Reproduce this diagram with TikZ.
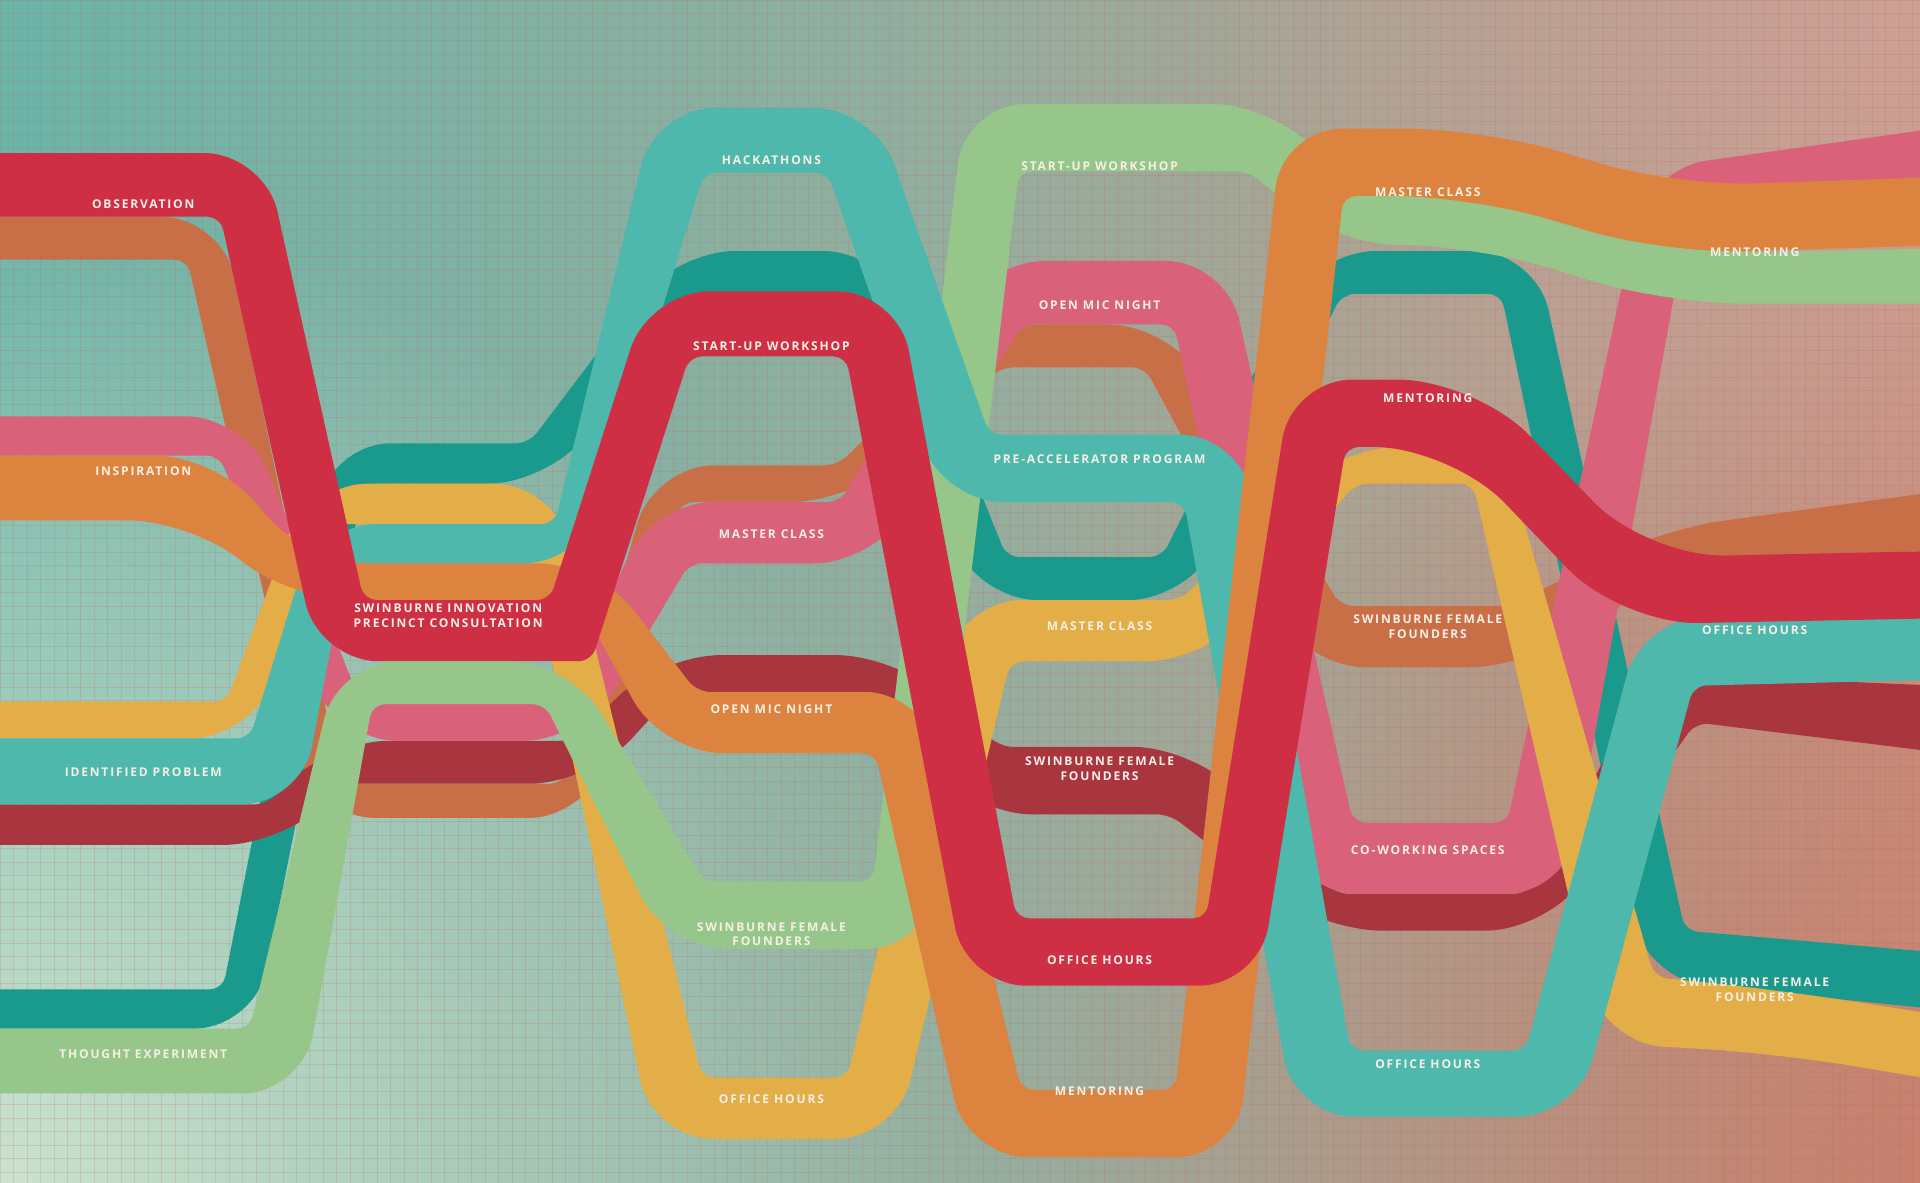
\documentclass[tikz,border=0pt]{standalone}
\usepackage{fontspec}
\usetikzlibrary{fadings}
\newfontfamily\lblfont{Open Sans}[LetterSpace=15]

\definecolor{redc}{HTML}{CE2F45}
\definecolor{terrac}{HTML}{C96F48}
\definecolor{pinkc}{HTML}{D9627A}
\definecolor{orangec}{HTML}{DC843F}
\definecolor{yellowc}{HTML}{E3AD48}
\definecolor{ltealc}{HTML}{4DB8AB}
\definecolor{maroonc}{HTML}{A9363F}
\definecolor{dtealc}{HTML}{1A998D}
\definecolor{greenc}{HTML}{97C68A}
\definecolor{lbltext}{HTML}{F5EFE6}
\definecolor{bgleft}{HTML}{6BB4A8}
\definecolor{bgmid}{HTML}{93AE9F}
\definecolor{bgright}{HTML}{C99282}
\definecolor{bgpale}{HTML}{DDEBD5}
\definecolor{bgpink}{HTML}{D2AFAA}
\definecolor{bgsalmon}{HTML}{C66E58}
\definecolor{gridred}{HTML}{C0655F}

\tikzfading[name=glow, inner color=transparent!0, outer color=transparent!100]

\begin{document}
\begin{tikzpicture}[x=0.01cm, y=-0.01cm,
    ribbon/.style={fill=#1},
    rout/.style={rounded corners=14pt},
    rin/.style={rounded corners=3pt},
    rwave/.style={rounded corners=18pt},
    lbl/.style={text=lbltext, font=\lblfont\bfseries\fontsize{2.8}{3.4}\selectfont, align=center, inner sep=0pt},
    gridln/.style={draw=gridred, line width=0.15pt, opacity=0.2}]
\useasboundingbox (0,0) rectangle (1568,966);
\clip (0,0) rectangle (1568,966);

% background
\shade[left color=bgleft, right color=bgright, middle color=bgmid] (0,0) rectangle (1568,966);
\fill[bgpale, path fading=glow, fill opacity=0.85] (0,966) circle (8cm);
\fill[bgpink, path fading=glow, fill opacity=0.5] (1568,0) circle (6cm);
\fill[bgsalmon, path fading=glow, fill opacity=0.5] (1568,966) circle (7cm);
\foreach \g in {0,11,...,1568} \draw[gridln] (\g,0) -- (\g,966);
\foreach \g in {0,11,...,966} \draw[gridln] (0,\g) -- (1568,\g);

% ribbons, back to front (corner style is given just before the corner it rounds)
\fill[ribbon=dtealc] (-60,808) [rin] -- (182,808) [rout] -- (270,362) [rin] -- (432,362) [rout] -- (551,205) [rout] -- (722,205) [rin] -- (822,455) [rin] -- (949,455) [rout] -- (1074,205) [rout] -- (1254,205) [rin] -- (1376,760) [sharp corners] -- (1630,782) -- (1630,829) [rout] -- (1344,800) [rin] -- (1226,240) [rin] -- (1096,240) [rout] -- (971,490) [rout] -- (798,490) [rin] -- (698,240) [rin] -- (569,240) [rout] -- (448,395) [rin] -- (297,395) [rout] -- (208,840) [sharp corners] -- (-60,840) -- cycle;
\fill[ribbon=terrac] (-60,177) [rout] -- (181,177) [rin] -- (279,640) [rin] -- (460,640) [rout] -- (534,380) [rin] -- (684,380) [rout] -- (803,265) [rout] -- (955,265) [rin] -- (1095,495) [rin] -- (1232,495) [rout] -- (1358,432) [sharp corners] -- (1630,395) -- (1630,446) [rin] -- (1372,462) [rout] -- (1248,545) [rout] -- (1066,545) [rin] -- (935,300) [rin] -- (817,300) [rout] -- (696,410) [rin] -- (556,410) [rout] -- (481,668) [rout] -- (257,668) [rin] -- (153,212) [sharp corners] -- (-60,212) -- cycle;
\fill[ribbon=maroonc] (-60,657) [rin] -- (218,657) [rout] -- (268,605) [rin] -- (468,605) [rout] -- (539,535) [rout] -- (732,535) [rin] -- (817,610) [rout] -- (975,610) [rin] -- (1091,730) [rin] -- (1247,730) [rout] -- (1351,550) [sharp corners] -- (1630,562) -- (1630,620) [rin] -- (1385,590) [rout] -- (1263,760) [rout] -- (1079,760) [rin] -- (955,665) [rout] -- (793,665) [rin] -- (718,565) [rin] -- (551,565) [rout] -- (482,640) [rin] -- (282,640) [rout] -- (232,690) [sharp corners] -- (-60,690) -- cycle;
\fill[ribbon=pinkc] (-60,340) [rout] -- (201,340) [rin] -- (295,575) [rin] -- (459,575) [rout] -- (533,410) [rin] -- (686,410) [rout] -- (805,213) [rout] -- (1001,213) [rin] -- (1105,672) [rin] -- (1231,672) [rout] -- (1345,138) [sharp corners] -- (1630,98) -- (1630,146) [rin] -- (1380,170) [rout] -- (1279,730) [rout] -- (1059,730) [rin] -- (959,265) [rin] -- (835,265) [rout] -- (714,460) [rin] -- (563,460) [rout] -- (477,605) [rout] -- (275,605) [rin] -- (179,372) [sharp corners] -- (-60,372) -- cycle;
\fill[ribbon=yellowc] (-60,573) [rin] -- (185,573) [rout] -- (251,395) [rout] -- (453,395) [rin] -- (573,880) [rin] -- (692,880) [rout] -- (785,490) [rin] -- (964,490) [rout] -- (1093,365) [rout] -- (1227,365) [rin] -- (1351,798) [rwave] -- (1450,808) [sharp corners] -- (1630,836) -- (1630,890) [rwave] -- (1450,860) [rout] -- (1309,852) [rin] -- (1203,395) [rin] -- (1107,395) [rout] -- (986,540) [rin] -- (825,540) [rout] -- (732,930) [rout] -- (533,930) [rin] -- (427,428) [rin] -- (273,428) [rout] -- (205,603) [sharp corners] -- (-60,603) -- cycle;
\fill[ribbon=greenc] (-60,840) [rin] -- (204,840) [rout] -- (276,540) [rout] -- (465,540) [rin] -- (575,720) [rin] -- (713,720) [rout] -- (788,85) [rout] -- (1040,85) [rin] -- (1108,160) [rwave] -- (1215,160) [rwave] -- (1370,207) [sharp corners] -- (1630,202) -- (1630,248) [rwave] -- (1360,248) [rwave] -- (1205,200) [rout] -- (1092,200) [rin] -- (1020,140) [rin] -- (832,140) [rout] -- (757,775) [rout] -- (545,775) [rin] -- (445,575) [rin] -- (304,575) [rout] -- (247,893) [sharp corners] -- (-60,893) -- cycle;
\fill[ribbon=ltealc] (-60,603) [rin] -- (204,603) [rout] -- (258,428) [rin] -- (453,428) [rout] -- (535,88) [rout] -- (714,88) [rin] -- (808,355) [rout] -- (1013,355) [rin] -- (1103,858) [rin] -- (1246,858) [rout] -- (1341,505) [sharp corners] -- (1630,499) -- (1630,554) [rin] -- (1383,560) [rout] -- (1288,912) [rout] -- (1057,912) [rin] -- (967,410) [rout] -- (770,410) [rin] -- (676,141) [rin] -- (575,141) [rout] -- (477,460) [rin] -- (283,460) [rout] -- (246,657) [sharp corners] -- (-60,657) -- cycle;
\fill[ribbon=orangec] (-60,372) [rout] -- (176,372) [rout] -- (251,460) [rout] -- (488,460) [rin] -- (569,565) [rout] -- (755,565) [rin] -- (834,890) [rin] -- (960,890) [rout] -- (1047,105) [rwave] -- (1210,105) [rwave] -- (1370,152) [sharp corners] -- (1630,143) -- (1630,199) [rwave] -- (1360,207) [rwave] -- (1200,160) [rin] -- (1097,160) [rout] -- (1010,945) [rout] -- (790,945) [rin] -- (715,615) [rout] -- (541,615) [rin] -- (472,490) [rout] -- (239,490) [rout] -- (154,425) [sharp corners] -- (-60,425) -- cycle;
\fill[ribbon=redc] (-60,125) [rout] -- (216,125) [rin] -- (297,490) [rin] -- (449,490) [rout] -- (530,238) [rout] -- (733,238) [rin] -- (830,750) [rin] -- (985,750) [rout] -- (1055,310) [rwave] -- (1205,310) [rwave] -- (1345,455) [sharp corners] -- (1630,449) -- (1630,504) [rwave] -- (1324,510) [rwave] -- (1185,365) [rin] -- (1099,365) [rout] -- (1028,805) [rout] -- (789,805) [rin] -- (691,291) [rin] -- (563,291) [rin] -- (483,540) [rout] -- (260,540) [rin] -- (180,177) [sharp corners] -- (-60,177) -- cycle;

% labels
\node[lbl] (obs) at (117,167) {OBSERVATION};
\node[lbl] (insp) at (117,385) {INSPIRATION};
\node[lbl] (idprob) at (117,631) {IDENTIFIED PROBLEM};
\node[lbl] (thought) at (117,861) {THOUGHT EXPERIMENT};
\node[lbl] (sipc) at (366,503) {SWINBURNE INNOVATION\\PRECINCT CONSULTATION};
\node[lbl] (hack) at (630,131) {HACKATHONS};
\node[lbl] (suwA) at (630,283) {START-UP WORKSHOP};
\node[lbl] (mcA) at (630,436) {MASTER CLASS};
\node[lbl] (omnA) at (630,579) {OPEN MIC NIGHT};
\node[lbl] (sffA) at (630,763) {SWINBURNE FEMALE\\FOUNDERS};
\node[lbl] (ohA) at (630,898) {OFFICE HOURS};
\node[lbl] (suwB) at (898,136) {START-UP WORKSHOP};
\node[lbl] (omnB) at (898,249) {OPEN MIC NIGHT};
\node[lbl] (preacc) at (898,375) {PRE-ACCELERATOR PROGRAM};
\node[lbl] (mcB) at (898,511) {MASTER CLASS};
\node[lbl] (sffB) at (898,628) {SWINBURNE FEMALE\\FOUNDERS};
\node[lbl] (ohB) at (898,784) {OFFICE HOURS};
\node[lbl] (mentB) at (898,891) {MENTORING};
\node[lbl] (mcC) at (1166,157) {MASTER CLASS};
\node[lbl] (mentC) at (1166,325) {MENTORING};
\node[lbl] (sffC) at (1166,512) {SWINBURNE FEMALE\\FOUNDERS};
\node[lbl] (cowork) at (1166,694) {CO-WORKING SPACES};
\node[lbl] (ohC) at (1166,869) {OFFICE HOURS};
\node[lbl] (mentD) at (1433,206) {MENTORING};
\node[lbl] (ohD) at (1433,515) {OFFICE HOURS};
\node[lbl] (sffD) at (1433,808) {SWINBURNE FEMALE\\FOUNDERS};
\end{tikzpicture}
\end{document}
